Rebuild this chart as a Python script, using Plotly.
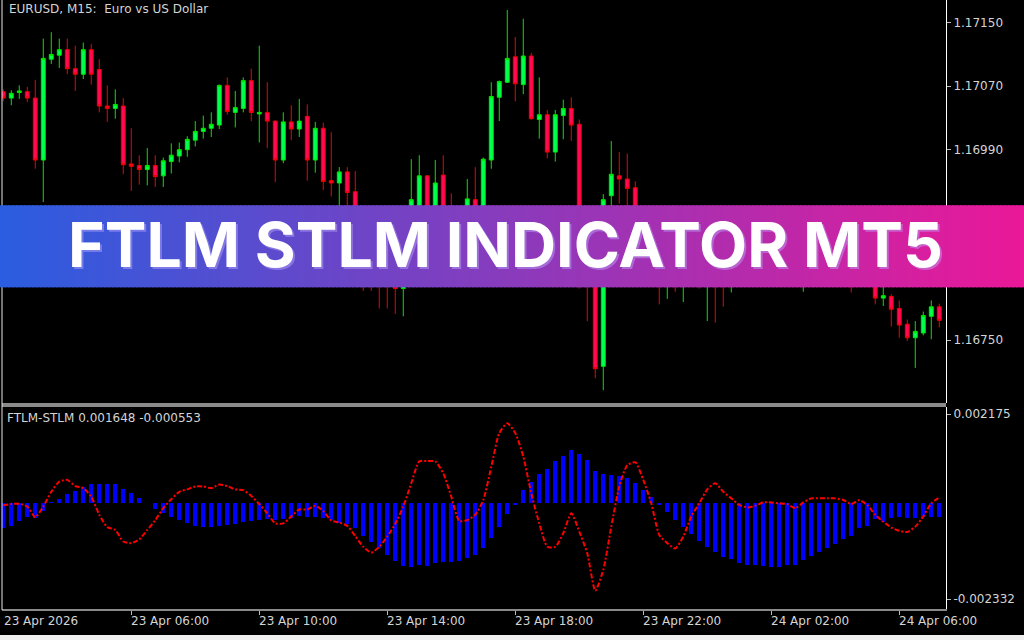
import pandas as pd
import plotly.graph_objects as go

# ---------------- data ----------------
times = pd.date_range("2026-04-23 02:00", periods=118, freq="15min")

opens = [1.17063, 1.17055, 1.17062, 1.17063, 1.17055, 1.16977, 1.17104, 1.17109, 1.17116, 1.17092,
         1.17085, 1.17116, 1.17091, 1.17045, 1.17042, 1.17045, 1.16972, 1.16970, 1.16965, 1.16970,
         1.16957, 1.16975, 1.16982, 1.16990, 1.17002, 1.17013, 1.17017, 1.17021, 1.17071, 1.17037,
         1.17042, 1.17077, 1.17035, 1.17037, 1.17026, 1.16977, 1.17025, 1.17016, 1.17032, 1.16977,
         1.17017, 1.16951, 1.16948, 1.16962, 1.16937, 1.16895, 1.16838, 1.16826, 1.16822, 1.16832,
         1.16815, 1.16849, 1.16908, 1.16957, 1.16911, 1.16958, 1.16901, 1.16876, 1.16894, 1.16927,
         1.16910, 1.16977, 1.17056, 1.17075, 1.17107, 1.17072, 1.17108, 1.17028, 1.17034, 1.16987,
         1.17033, 1.17042, 1.17022, 1.16849, 1.16836, 1.16717, 1.16932, 1.16957, 1.16953, 1.16942,
         1.16876, 1.16864, 1.16845, 1.16823, 1.16841, 1.16823, 1.16838, 1.16831, 1.16823, 1.16843,
         1.16826, 1.16821, 1.16836, 1.16831, 1.16841, 1.16833, 1.16843, 1.16836, 1.16849, 1.16841,
         1.16838, 1.16854, 1.16846, 1.16856, 1.16849, 1.16857, 1.16847, 1.16836, 1.16846, 1.16833,
         1.16803, 1.16805, 1.16790, 1.16770, 1.16753, 1.16759, 1.16780, 1.16792]

highs = [1.17066, 1.17065, 1.17071, 1.17069, 1.17078, 1.17130, 1.17138, 1.17130, 1.17130, 1.17121,
         1.17125, 1.17123, 1.17104, 1.17071, 1.17066, 1.17055, 1.17017, 1.16983, 1.16992, 1.16983,
         1.16980, 1.16998, 1.16999, 1.17007, 1.17026, 1.17033, 1.17037, 1.17072, 1.17081, 1.17064,
         1.17081, 1.17092, 1.17121, 1.17075, 1.17027, 1.17037, 1.17046, 1.17054, 1.17047, 1.17025,
         1.17024, 1.17012, 1.16968, 1.16968, 1.16963, 1.16908, 1.16849, 1.16838, 1.16836, 1.16845,
         1.16864, 1.16978, 1.16983, 1.16958, 1.16977, 1.16983, 1.16935, 1.16911, 1.16953, 1.16968,
         1.16980, 1.17075, 1.17077, 1.17166, 1.17132, 1.17155, 1.17112, 1.17081, 1.17040, 1.17040,
         1.17053, 1.17056, 1.17028, 1.16864, 1.16849, 1.16934, 1.17001, 1.16987, 1.16985, 1.16950,
         1.16886, 1.16876, 1.16857, 1.16854, 1.16851, 1.16849, 1.16854, 1.16845, 1.16857, 1.16854,
         1.16841, 1.16849, 1.16849, 1.16851, 1.16849, 1.16856, 1.16854, 1.16861, 1.16857, 1.16864,
         1.16866, 1.16864, 1.16869, 1.16866, 1.16869, 1.16867, 1.16859, 1.16856, 1.16854, 1.16845,
         1.16826, 1.16808, 1.16800, 1.16776, 1.16774, 1.16786, 1.16800, 1.16796]

lows = [1.17051, 1.17046, 1.17054, 1.17050, 1.16966, 1.16924, 1.17098, 1.17093, 1.17085, 1.17064,
        1.17079, 1.17072, 1.17037, 1.17025, 1.17029, 1.16959, 1.16938, 1.16946, 1.16945, 1.16943,
        1.16943, 1.16960, 1.16974, 1.16981, 1.16994, 1.17004, 1.17006, 1.17016, 1.17034, 1.17018,
        1.17037, 1.17026, 1.16999, 1.16992, 1.16949, 1.16973, 1.17002, 1.17006, 1.16951, 1.16961,
        1.16939, 1.16931, 1.16911, 1.16908, 1.16876, 1.16812, 1.16812, 1.16790, 1.16790, 1.16783,
        1.16780, 1.16841, 1.16901, 1.16899, 1.16904, 1.16889, 1.16866, 1.16864, 1.16886, 1.16899,
        1.16901, 1.16966, 1.17026, 1.17074, 1.17051, 1.17060, 1.17028, 1.17004, 1.16979, 1.16975,
        1.17003, 1.17001, 1.16815, 1.16774, 1.16702, 1.16687, 1.16913, 1.16922, 1.16908, 1.16864,
        1.16849, 1.16832, 1.16795, 1.16802, 1.16811, 1.16798, 1.16821, 1.16815, 1.16774, 1.16772,
        1.16792, 1.16810, 1.16823, 1.16826, 1.16824, 1.16828, 1.16826, 1.16831, 1.16832, 1.16836,
        1.16811, 1.16836, 1.16838, 1.16838, 1.16841, 1.16836, 1.16810, 1.16826, 1.16823, 1.16795,
        1.16793, 1.16767, 1.16753, 1.16749, 1.16715, 1.16756, 1.16751, 1.16766]

closes = [1.17055, 1.17061, 1.17064, 1.17055, 1.16977, 1.17105, 1.17110, 1.17116, 1.17092, 1.17085,
          1.17116, 1.17085, 1.17045, 1.17042, 1.17047, 1.16971, 1.16969, 1.16965, 1.16970, 1.16956,
          1.16976, 1.16983, 1.16990, 1.17003, 1.17013, 1.17017, 1.17022, 1.17071, 1.17038, 1.17043,
          1.17077, 1.17037, 1.17037, 1.17026, 1.16977, 1.17025, 1.17016, 1.17026, 1.16977, 1.17017,
          1.16950, 1.16948, 1.16962, 1.16936, 1.16895, 1.16838, 1.16823, 1.16820, 1.16818, 1.16815,
          1.16849, 1.16927, 1.16957, 1.16908, 1.16948, 1.16901, 1.16876, 1.16895, 1.16928, 1.16908,
          1.16978, 1.17057, 1.17076, 1.17105, 1.17073, 1.17108, 1.17029, 1.17034, 1.16987, 1.17034,
          1.17042, 1.17021, 1.16851, 1.16832, 1.16714, 1.16927, 1.16959, 1.16953, 1.16941, 1.16876,
          1.16864, 1.16845, 1.16826, 1.16841, 1.16828, 1.16838, 1.16831, 1.16826, 1.16843, 1.16826,
          1.16821, 1.16836, 1.16831, 1.16841, 1.16833, 1.16843, 1.16836, 1.16849, 1.16841, 1.16851,
          1.16854, 1.16846, 1.16856, 1.16849, 1.16857, 1.16847, 1.16836, 1.16846, 1.16833, 1.16803,
          1.16806, 1.16789, 1.16769, 1.16753, 1.16761, 1.16781, 1.16792, 1.16775]

hist = [-0.00061, -0.00055, -0.00042, -0.00033, -0.00037, -0.00018, 0.00002, 0.0001, 0.00022, 0.00029,
        0.00039, 0.00046, 0.00047, 0.00047, 0.00046, 0.00034, 0.00024, 0.00012, 0.00001, -0.00015,
        -0.00023, -0.00034, -0.00041, -0.00049, -0.00055, -0.00057, -0.00057, -0.00055, -0.00053, -0.0005,
        -0.00046, -0.00043, -0.00041, -0.00038, -0.00041, -0.00038, -0.00037, -0.00031, -0.00033, -0.00033,
        -0.00037, -0.00041, -0.00047, -0.0005, -0.00061, -0.00079, -0.00095, -0.0011, -0.00127, -0.00141,
        -0.00153, -0.00156, -0.0015, -0.00153, -0.00146, -0.00144, -0.00142, -0.00141, -0.00134, -0.00127,
        -0.00108, -0.00085, -0.00058, -0.00027, -0.00003, 0.00032, 0.00053, 0.00071, 0.00083, 0.00103,
        0.00116, 0.0013, 0.0012, 0.00105, 0.00078, 0.00071, 0.00068, 0.00067, 0.00061, 0.00049,
        0.00032, 0.00015, -0.00004, -0.0002, -0.00041, -0.00058, -0.00076, -0.00091, -0.00106, -0.00118,
        -0.0013, -0.00136, -0.00145, -0.0015, -0.0015, -0.00152, -0.00154, -0.00154, -0.00151, -0.0015,
        -0.00139, -0.00128, -0.00119, -0.0011, -0.001, -0.00088, -0.00079, -0.00061, -0.00055, -0.00038,
        -0.00046, -0.00037, -0.00034, -0.00037, -0.00037, -0.00034, -0.00033, -0.00033]

signal = [-0.00005, -0.00002, -0.00001, -0.00008, -0.00034, -0.00008, 0.00028, 0.00053, 0.00057, 0.00042,
          0.00037, 0.00016, -0.00028, -0.00058, -0.00065, -0.00093, -0.00097, -0.00088, -0.00065, -0.00041,
          -0.00012, 0.0001, 0.00028, 0.00034, 0.00041, 0.00041, 0.00037, 0.00046, 0.00042, 0.00034,
          0.00032, 0.00018, -0.00002, -0.00024, -0.00049, -0.00049, -0.00032, -0.00015, -0.00015, -0.00006,
          -0.00019, -0.00042, -0.00047, -0.00055, -0.0008, -0.00106, -0.0012, -0.00106, -0.00081, -0.0005,
          -0.00008, 0.00049, 0.00102, 0.00103, 0.00102, 0.00073, 0.00016, -0.00043, -0.00041, -0.00028,
          0.00008, 0.00089, 0.00171, 0.00195, 0.00171, 0.00114, 0.00024, -0.00049, -0.00106, -0.00106,
          -0.00073, -0.00024, -0.00069, -0.00122, -0.00213, -0.00162, -0.00057, 0.00041, 0.00093, 0.001,
          0.00057, 0.0, -0.00077, -0.00097, -0.0011, -0.00081, -0.00032, 0.0, 0.00034, 0.00049,
          0.00028, 0.00012, -0.00004, -0.0001, -0.00006, 0.00002, 0.00002, 0.0, -0.00002, -0.00012,
          0.00002, 0.00012, 0.00012, 0.00012, 0.00012, 0.00008, -0.00002, 0.00008, -0.00004, -0.00028,
          -0.00045, -0.00059, -0.00067, -0.0007, -0.00057, -0.00032, 0.0, 0.00014]

price_ticks = [1.16750, 1.16830, 1.16910, 1.16990, 1.17070, 1.17150]
ind_ticks = [-0.002332, 0.002175]
chart_title = "EURUSD, M15:\u00a0 Euro vs US Dollar"
ind_title = "FTLM-STLM 0.001648 -0.000553"
banner_text = "FTLM STLM INDICATOR MT5"

# ---------------- geometry helpers (pixels -> paper) ----------------
W, H = 1024, 640
def px(x):
    return x / W
def py(y):
    return 1 - y / H

idx = list(range(len(times)))
tick_idx = [i for i, t in enumerate(times) if i > 0 and t.minute == 0 and t.hour % 4 == 2]
tick_txt = [times[i].strftime("%d %b %H:%M") for i in tick_idx]

LBL = dict(family="DejaVu Sans", size=12, color="#d4d4d4")

fig = go.Figure()

fig.add_trace(go.Candlestick(
    x=idx, open=opens, high=highs, low=lows, close=closes,
    increasing=dict(line=dict(color="#00e600", width=1), fillcolor="#00ff50"),
    decreasing=dict(line=dict(color="#f00000", width=1), fillcolor="#ff0a55"),
    whiskerwidth=0, xaxis="x", yaxis="y", showlegend=False, hoverinfo="skip"))

fig.add_trace(go.Bar(x=idx, y=hist, width=0.5, marker=dict(color="#0000ff", line=dict(width=0)),
                     xaxis="x2", yaxis="y2", showlegend=False, hoverinfo="skip"))

fig.add_trace(go.Scatter(x=idx, y=signal, mode="lines",
                         line=dict(color="#ff0000", width=2, dash="5px,2px,2px,2px", shape="spline", smoothing=0.6),
                         xaxis="x2", yaxis="y2", showlegend=False, hoverinfo="skip"))

xr = [-0.16, 117.84]
xdom = [px(2), px(946)]

shapes = []
# separator between panels
shapes.append(dict(type="rect", xref="paper", yref="paper", x0=px(2), x1=px(946), y0=py(407), y1=py(403),
                   fillcolor="#8a8a8a", line=dict(width=0), layer="above"))
# left frame line
shapes.append(dict(type="line", xref="paper", yref="paper", x0=px(2), x1=px(2), y0=py(610), y1=py(0),
                   line=dict(color="#e8e8e8", width=1), layer="above"))
# bottom light strip
shapes.append(dict(type="rect", xref="paper", yref="paper", x0=0, x1=1, y0=0, y1=py(635),
                   fillcolor="#f0f0f0", line=dict(width=0), layer="above"))
# gradient banner
N = 256
c0 = (42, 93, 224)
c1 = (234, 24, 152)
for k in range(N):
    f = (k + 0.5) / N
    col = "rgb(%d,%d,%d)" % tuple(round(a + (b - a) * f) for a, b in zip(c0, c1))
    shapes.append(dict(type="rect", xref="paper", yref="paper",
                       x0=k / N, x1=min(1, (k + 1.6) / N), y0=py(287.3), y1=py(205.3),
                       fillcolor=col, line=dict(width=0), layer="above"))

annotations = []
annotations.append(dict(text=chart_title, xref="paper", yref="paper", x=px(7), y=py(9),
                        xanchor="left", yanchor="middle", showarrow=False, font=LBL))
annotations.append(dict(text=ind_title, xref="paper", yref="paper", x=px(5), y=py(418),
                        xanchor="left", yanchor="middle", showarrow=False, font=LBL))
annotations.append(dict(text=times[0].strftime("%d %b %Y"), xref="paper", yref="paper", x=px(2), y=py(621),
                        xanchor="left", yanchor="middle", showarrow=False, font=LBL))
for i, t in zip(tick_idx, tick_txt):
    annotations.append(dict(text=t, xref="x2", yref="paper", x=i, y=py(621), xshift=-2,
                            xanchor="left", yanchor="middle", showarrow=False, font=LBL))
annotations.append(dict(text=banner_text, xref="paper", yref="paper", x=px(505), y=py(244),
                        xanchor="center", yanchor="middle", showarrow=False,
                        font=dict(family="Inter", size=62.5, weight=700, color="#ffffff",
                                  shadow="2px 2px 0px rgba(190,170,255,0.45)")))

fig.update_layout(
    width=W, height=H, autosize=False,
    margin=dict(l=0, r=0, t=0, b=0, pad=0),
    paper_bgcolor="#000000", plot_bgcolor="#000000",
    showlegend=False, bargap=0,
    xaxis=dict(domain=xdom, range=xr, showticklabels=False, showgrid=False, zeroline=False,
               showline=False, ticks="", rangeslider=dict(visible=False), anchor="y", fixedrange=True),
    yaxis=dict(domain=[py(403), 1], range=[1.166708, 1.171786], side="right", anchor="x",
               tickvals=price_ticks, ticktext=["%.5f" % v for v in price_ticks],
               ticks="outside", ticklen=4, tickcolor="#bbbbbb", tickfont=LBL,
               showgrid=False, zeroline=False, showline=True, linecolor="#ffffff", linewidth=1),
    xaxis2=dict(domain=xdom, range=xr, anchor="y2", showticklabels=False, showgrid=False, zeroline=False,
                tickvals=tick_idx, ticks="outside", ticklen=4, tickcolor="#bbbbbb",
                showline=True, linecolor="#8a8a8a", linewidth=2),
    yaxis2=dict(domain=[py(608.7), py(407)], range=[-0.002568, 0.002346], side="right", anchor="x2",
                tickvals=ind_ticks, ticktext=["%.6f" % v for v in ind_ticks],
                ticks="outside", ticklen=4, tickcolor="#bbbbbb", tickfont=LBL,
                showgrid=False, zeroline=False, showline=True, linecolor="#ffffff", linewidth=1),
    shapes=shapes, annotations=annotations,
)

fig.write_html("out.html", config={"displayModeBar": False, "staticPlot": True},
               post_script="document.body.style.margin='0px';document.body.style.overflow='hidden';")
